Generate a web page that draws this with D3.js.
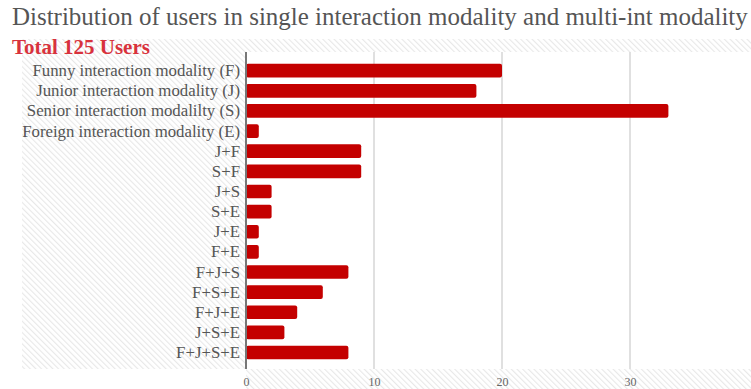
<!DOCTYPE html>
<html>
<head>
<meta charset="utf-8">
<script src="https://cdn.jsdelivr.net/npm/d3@7"></script>
<style>
  body { margin: 0; background: #fff; }
  svg { display: block; }
  text { font-family: "Liberation Serif", "DejaVu Serif", serif; }
</style>
</head>
<body>
<div id="chart"></div>
<script>
const categories = [
  "Funny interaction modality (F)",
  "Junior interaction modality (J)",
  "Senior interaction modalilty (S)",
  "Foreign interaction modality (E)",
  "J+F", "S+F", "J+S", "S+E", "J+E", "F+E",
  "F+J+S", "F+S+E", "F+J+E", "J+S+E", "F+J+S+E"
];
const users = [20, 18, 33, 1, 9, 9, 2, 2, 1, 1, 8, 6, 4, 3, 8];
const xTicks = [0, 10, 20, 30];
const title = "Distribution of users in single interaction modality and multi-int modality";
const subtitle = "Total 125 Users";

const width = 751, height = 389;
const plot = { left: 246, top: 52, bottom: 369 };

const svg = d3.select("#chart").append("svg")
  .attr("width", width)
  .attr("height", height);

// diagonal hatch background
const defs = svg.append("defs");
const pat = defs.append("pattern")
  .attr("id", "hatch")
  .attr("width", 4).attr("height", 4)
  .attr("patternUnits", "userSpaceOnUse")
  .attr("patternTransform", "rotate(-45)");
pat.append("rect").attr("width", 4).attr("height", 4).attr("fill", "#fff");
pat.append("line")
  .attr("x1", 0).attr("y1", 0).attr("x2", 0).attr("y2", 4)
  .attr("stroke", "#e8e8e8").attr("stroke-width", 2.2);

svg.append("rect")
  .attr("x", 22).attr("y", 39)
  .attr("width", width - 22).attr("height", plot.bottom - 39)
  .attr("fill", "url(#hatch)");
svg.append("rect")
  .attr("x", plot.left).attr("y", plot.bottom)
  .attr("width", width - plot.left).attr("height", height - plot.bottom)
  .attr("fill", "url(#hatch)");

// white plot area
svg.append("rect")
  .attr("x", plot.left).attr("y", plot.top)
  .attr("width", width - plot.left).attr("height", plot.bottom - plot.top)
  .attr("fill", "#fff");

const x = d3.scaleLinear().domain([0, 40]).range([plot.left, plot.left + 512]);
const y = d3.scaleBand().domain(categories).range([57.4, 365.8]).padding(0.32);

// grid lines
svg.append("g")
  .selectAll("line")
  .data(xTicks.slice(1))
  .join("line")
  .attr("x1", d => x(d)).attr("x2", d => x(d))
  .attr("y1", plot.top).attr("y2", plot.bottom)
  .attr("stroke", "#d6d6d6").attr("stroke-width", 1.5);

// bars
svg.append("g")
  .selectAll("rect")
  .data(categories)
  .join("rect")
  .attr("x", x(0))
  .attr("y", d => y(d))
  .attr("width", (d, i) => x(users[i]) - x(0))
  .attr("height", y.bandwidth())
  .attr("rx", 2)
  .attr("fill", "#c40000");

// y axis line
svg.append("line")
  .attr("x1", x(0)).attr("x2", x(0))
  .attr("y1", plot.top).attr("y2", plot.bottom)
  .attr("stroke", "#777").attr("stroke-width", 2);

// category labels
const labels = svg.append("g")
  .selectAll("text")
  .data(categories)
  .join("text")
  .attr("x", 240)
  .attr("y", d => y(d) + y.bandwidth() / 2)
  .attr("dy", "0.33em")
  .attr("text-anchor", "end")
  .attr("fill", "#555")
  .style("font-size", "14px")
  .text(d => d);

// fit labels to measured width of the longest one
const longest = labels.filter((d, i) => i === 3).node().getComputedTextLength();
const lblSize = 14 * 218 / longest;
labels.style("font-size", lblSize + "px");

// x tick labels
const xAxis = d3.axisBottom(x).tickValues(xTicks).tickSize(0).tickPadding(8);
const gX = svg.append("g")
  .attr("transform", `translate(0, ${plot.bottom})`)
  .call(xAxis);
gX.select(".domain").remove();
gX.selectAll("text")
  .attr("fill", "#666")
  .style("font-family", "'Liberation Serif', serif")
  .style("font-size", "12px");

// title
const t = svg.append("text")
  .attr("x", 12).attr("y", 25)
  .attr("fill", "#555")
  .style("font-size", "24px")
  .text(title);
const tw = t.node().getComputedTextLength();
t.style("font-size", (24 * 736 / tw) + "px");

const s = svg.append("text")
  .attr("x", 12).attr("y", 54)
  .attr("fill", "#d8323c")
  .style("font-size", "18px")
  .style("font-weight", "bold")
  .text(subtitle);
const sw = s.node().getComputedTextLength();
s.style("font-size", (18 * 138 / sw) + "px");
</script>
</body>
</html>
